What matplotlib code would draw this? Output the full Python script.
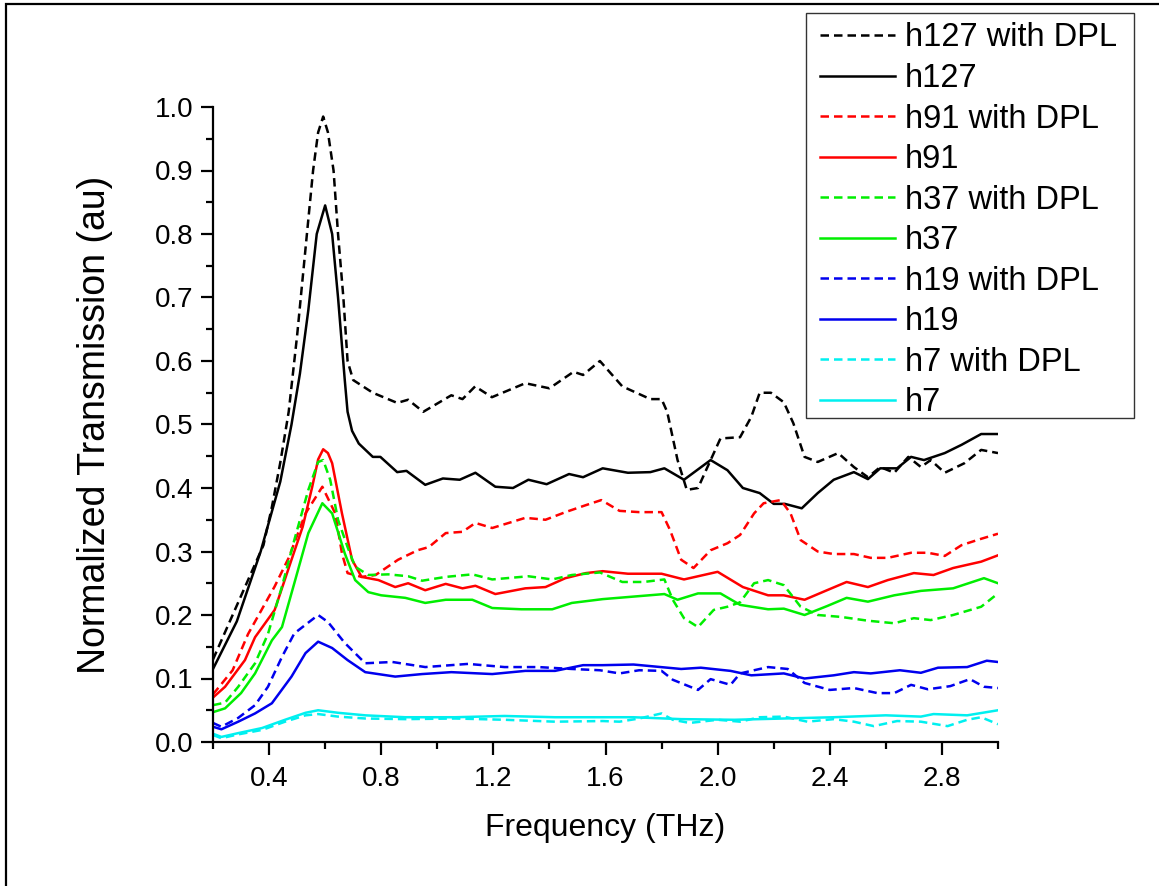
import matplotlib
matplotlib.use("Agg")
import matplotlib.pyplot as plt
from matplotlib.ticker import MultipleLocator, FormatStrFormatter
from matplotlib.patches import Rectangle

plt.rcParams['font.family'] = ['Liberation Sans', 'DejaVu Sans']

# ---- h127 ----
f_h127_dpl = [0.20, 0.27, 0.33, 0.38, 0.41, 0.44, 0.47, 0.50, 0.535, 0.557, 0.575, 0.593, 0.61, 0.63,
              0.646, 0.665, 0.68, 0.70,
              0.77, 0.857, 0.896, 0.95, 1.05, 1.09, 1.135, 1.195, 1.314, 1.40, 1.486, 1.52, 1.58,
              1.66, 1.76, 1.80, 1.82, 1.857, 1.89, 1.93, 1.975, 2.01, 2.08, 2.12, 2.15, 2.19,
              2.236, 2.27, 2.31, 2.357, 2.43, 2.486, 2.536, 2.58, 2.63, 2.68, 2.725, 2.76, 2.81,
              2.88, 2.94, 3.00]
y_h127_dpl = [0.13, 0.20, 0.26, 0.31, 0.37, 0.44, 0.52, 0.64, 0.80, 0.90, 0.96, 0.985, 0.96, 0.90,
              0.80, 0.70, 0.60, 0.57,
              0.55, 0.534, 0.539, 0.52, 0.546, 0.54, 0.56, 0.543, 0.565, 0.557, 0.583, 0.578, 0.60,
              0.56, 0.54, 0.54, 0.52, 0.444, 0.397, 0.40, 0.444, 0.478, 0.48, 0.512, 0.55, 0.55,
              0.535, 0.502, 0.449, 0.441, 0.455, 0.433, 0.417, 0.433, 0.424, 0.449, 0.433, 0.444, 0.424,
              0.439, 0.46, 0.455]

f_h127 = [0.20, 0.285, 0.37, 0.44, 0.48, 0.51, 0.54, 0.57, 0.60, 0.625, 0.646, 0.67, 0.68, 0.696,
          0.72, 0.77,
          0.797, 0.857, 0.89, 0.957, 1.02, 1.08, 1.136, 1.207, 1.27, 1.325, 1.39, 1.47, 1.52,
          1.59, 1.68, 1.76, 1.81, 1.88, 1.975, 2.035, 2.09, 2.15, 2.20, 2.24, 2.30, 2.357,
          2.414, 2.486, 2.536, 2.58, 2.64, 2.69, 2.736, 2.81, 2.87, 2.94, 3.00]
y_h127 = [0.115, 0.19, 0.30, 0.41, 0.50, 0.58, 0.68, 0.80, 0.845, 0.80, 0.70, 0.57, 0.52, 0.49,
          0.47, 0.449,
          0.449, 0.425, 0.427, 0.405, 0.415, 0.413, 0.424, 0.402, 0.40, 0.413, 0.406, 0.422, 0.417,
          0.431, 0.424, 0.425, 0.431, 0.413, 0.444, 0.428, 0.40, 0.392, 0.375, 0.375, 0.368, 0.392,
          0.413, 0.425, 0.414, 0.431, 0.431, 0.449, 0.444, 0.455, 0.468, 0.485, 0.485]

# ---- h91 ----
f_h91_dpl = [0.20, 0.27, 0.325, 0.42, 0.47, 0.53, 0.59, 0.636, 0.66, 0.68, 0.73, 0.78, 0.86,
             0.93, 0.97, 1.03, 1.09, 1.136, 1.196, 1.314, 1.386, 1.457, 1.53, 1.585, 1.65, 1.72,
             1.80, 1.83, 1.87, 1.914, 1.975, 2.035, 2.08, 2.13, 2.164, 2.225, 2.26, 2.296, 2.357,
             2.414, 2.486, 2.546, 2.607, 2.69, 2.75, 2.81, 2.87, 2.94, 3.00]
y_h91_dpl = [0.075, 0.113, 0.17, 0.245, 0.29, 0.36, 0.402, 0.36, 0.297, 0.266, 0.26, 0.263, 0.287,
             0.302, 0.307, 0.329, 0.331, 0.345, 0.337, 0.353, 0.35, 0.362, 0.373, 0.381, 0.364, 0.362,
             0.362, 0.334, 0.287, 0.274, 0.302, 0.313, 0.326, 0.36, 0.376, 0.381, 0.36, 0.318, 0.30,
             0.296, 0.296, 0.29, 0.29, 0.298, 0.298, 0.293, 0.31, 0.32, 0.328]

f_h91 = [0.20, 0.243, 0.314, 0.35, 0.42, 0.48, 0.52, 0.554, 0.575, 0.593, 0.61, 0.625, 0.66, 0.696,
         0.73, 0.79, 0.85, 0.896, 0.957, 1.03, 1.09, 1.136, 1.207, 1.314, 1.386, 1.457, 1.53, 1.59,
         1.68, 1.80, 1.88, 2.00, 2.09, 2.18, 2.236, 2.31, 2.39, 2.46, 2.536, 2.607, 2.70,
         2.77, 2.84, 2.94, 3.00]
y_h91 = [0.07, 0.087, 0.129, 0.165, 0.208, 0.287, 0.339, 0.402, 0.445, 0.461, 0.455, 0.439, 0.36, 0.287,
         0.26, 0.255, 0.244, 0.25, 0.239, 0.249, 0.242, 0.246, 0.233, 0.242, 0.244, 0.258, 0.266, 0.269,
         0.265, 0.265, 0.256, 0.268, 0.244, 0.231, 0.231, 0.224, 0.239, 0.252, 0.244, 0.255, 0.266,
         0.263, 0.274, 0.284, 0.294]

# ---- h37 ----
f_h37_dpl = [0.20, 0.243, 0.29, 0.35, 0.396, 0.446, 0.49, 0.54, 0.575, 0.593, 0.618, 0.646, 0.68,
             0.707, 0.754, 0.825, 0.896, 0.946, 1.03, 1.125, 1.196, 1.325, 1.41, 1.48, 1.58, 1.66,
             1.736, 1.81, 1.84, 1.88, 1.93, 1.986, 2.035, 2.08, 2.13, 2.18, 2.236, 2.296, 2.357,
             2.44, 2.536, 2.63, 2.70, 2.76, 2.84, 2.94, 3.00]
y_h37_dpl = [0.058, 0.062, 0.087, 0.124, 0.17, 0.245, 0.318, 0.397, 0.441, 0.444, 0.413, 0.35, 0.307,
             0.276, 0.263, 0.264, 0.261, 0.254, 0.26, 0.264, 0.256, 0.261, 0.256, 0.263, 0.267, 0.252,
             0.252, 0.256, 0.224, 0.195, 0.181, 0.208, 0.213, 0.22, 0.25, 0.255, 0.247, 0.213, 0.20,
             0.197, 0.191, 0.187, 0.195, 0.192, 0.20, 0.213, 0.234]

f_h37 = [0.20, 0.243, 0.30, 0.35, 0.41, 0.446, 0.49, 0.54, 0.59, 0.625, 0.67, 0.707, 0.754,
         0.80, 0.886, 0.957, 1.03, 1.125, 1.196, 1.30, 1.41, 1.48, 1.59, 1.70, 1.81, 1.857,
         1.93, 2.01, 2.08, 2.18, 2.236, 2.31, 2.39, 2.46, 2.536, 2.63, 2.725, 2.84, 2.95, 3.00]
y_h37 = [0.047, 0.053, 0.077, 0.108, 0.16, 0.181, 0.25, 0.329, 0.376, 0.36, 0.297, 0.255, 0.236,
         0.231, 0.227, 0.219, 0.224, 0.224, 0.211, 0.209, 0.209, 0.219, 0.225, 0.229, 0.233, 0.224,
         0.234, 0.234, 0.216, 0.209, 0.21, 0.20, 0.214, 0.227, 0.221, 0.231, 0.238, 0.242, 0.258, 0.25]

# ---- h19 ----
f_h19_dpl = [0.20, 0.23, 0.29, 0.35, 0.396, 0.446, 0.49, 0.575, 0.61, 0.67, 0.743, 0.84, 0.957,
             1.11, 1.24, 1.36, 1.48, 1.58, 1.65, 1.72, 1.80, 1.84, 1.93, 1.975, 2.046, 2.08,
             2.18, 2.25, 2.31, 2.40, 2.486, 2.57, 2.63, 2.69, 2.75, 2.83, 2.90, 2.95, 3.00]
y_h19_dpl = [0.03, 0.024, 0.038, 0.058, 0.087, 0.134, 0.171, 0.20, 0.189, 0.156, 0.124, 0.126, 0.118,
             0.123, 0.118, 0.118, 0.115, 0.113, 0.108, 0.113, 0.112, 0.098, 0.082, 0.099, 0.09, 0.108,
             0.118, 0.115, 0.093, 0.082, 0.085, 0.077, 0.077, 0.09, 0.083, 0.088, 0.099, 0.087, 0.085]

f_h19 = [0.20, 0.23, 0.29, 0.35, 0.41, 0.48, 0.53, 0.575, 0.625, 0.68, 0.743, 0.85, 0.946,
         1.05, 1.196, 1.314, 1.42, 1.52, 1.59, 1.70, 1.87, 1.94, 2.046, 2.12, 2.236, 2.31,
         2.414, 2.486, 2.546, 2.65, 2.725, 2.786, 2.89, 2.96, 3.00]
y_h19 = [0.024, 0.02, 0.032, 0.045, 0.061, 0.103, 0.14, 0.158, 0.148, 0.129, 0.11, 0.103, 0.107,
         0.11, 0.107, 0.112, 0.112, 0.121, 0.121, 0.122, 0.115, 0.117, 0.112, 0.105, 0.108, 0.10,
         0.105, 0.11, 0.108, 0.113, 0.109, 0.117, 0.118, 0.128, 0.126]

# ---- h7 ----
f_h7_dpl = [0.20, 0.23, 0.29, 0.375, 0.457, 0.53, 0.575, 0.646, 0.743, 0.886, 1.064, 1.24, 1.42,
            1.59, 1.65, 1.72, 1.80, 1.84, 1.90, 2.00, 2.08, 2.15, 2.236, 2.32, 2.414, 2.486,
            2.557, 2.64, 2.725, 2.82, 2.89, 2.94, 3.00]
y_h7_dpl = [0.011, 0.006, 0.012, 0.019, 0.032, 0.042, 0.044, 0.04, 0.037, 0.036, 0.037, 0.035, 0.032,
            0.033, 0.032, 0.037, 0.045, 0.035, 0.03, 0.035, 0.032, 0.039, 0.04, 0.032, 0.036, 0.032,
            0.025, 0.033, 0.032, 0.025, 0.035, 0.039, 0.028]

f_h7 = [0.20, 0.23, 0.29, 0.375, 0.457, 0.53, 0.575, 0.646, 0.743, 0.886, 1.064, 1.24, 1.42,
        1.59, 1.70, 1.87, 2.06, 2.236, 2.414, 2.60, 2.725, 2.77, 2.89, 3.00]
y_h7 = [0.013, 0.008, 0.014, 0.022, 0.035, 0.046, 0.05, 0.046, 0.042, 0.039, 0.039, 0.041, 0.039,
        0.039, 0.039, 0.036, 0.035, 0.037, 0.039, 0.042, 0.04, 0.044, 0.042, 0.05]

series = [
    ("h127 with DPL", f_h127_dpl, y_h127_dpl, "#000000", "--"),
    ("h127", f_h127, y_h127, "#000000", "-"),
    ("h91 with DPL", f_h91_dpl, y_h91_dpl, "#ff0000", "--"),
    ("h91", f_h91, y_h91, "#ff0000", "-"),
    ("h37 with DPL", f_h37_dpl, y_h37_dpl, "#00ee00", "--"),
    ("h37", f_h37, y_h37, "#00ee00", "-"),
    ("h19 with DPL", f_h19_dpl, y_h19_dpl, "#0000ee", "--"),
    ("h19", f_h19, y_h19, "#0000ee", "-"),
    ("h7 with DPL", f_h7_dpl, y_h7_dpl, "#00f0f0", "--"),
    ("h7", f_h7, y_h7, "#00f0f0", "-"),
]

W, H = 1159, 886
fig = plt.figure(figsize=(W / 100, H / 100), dpi=100)
ax = fig.add_axes([213 / W, 1 - 742 / H, (998 - 213) / W, (742 - 107) / H])

for label, fx, fy, color, ls in series:
    kw = dict(color=color, lw=1.8, label=label, solid_joinstyle="round")
    if ls == "--":
        kw["dashes"] = (3.4, 2.0)
    ax.plot(fx, fy, **kw)

ax.set_xlim(0.2, 3.0)
ax.set_ylim(0.0, 1.0)
ax.xaxis.set_major_locator(MultipleLocator(0.4))
ax.xaxis.set_minor_locator(MultipleLocator(0.2))
ax.yaxis.set_major_locator(MultipleLocator(0.1))
ax.yaxis.set_minor_locator(MultipleLocator(0.05))
ax.xaxis.set_major_formatter(FormatStrFormatter('%.1f'))
ax.yaxis.set_major_formatter(FormatStrFormatter('%.1f'))

for side in ("top", "right"):
    ax.spines[side].set_visible(False)
for side in ("left", "bottom"):
    ax.spines[side].set_linewidth(1.6)

ax.tick_params(which="major", direction="out", length=9, width=1.6, labelsize=20, pad=8)
ax.tick_params(which="minor", direction="out", length=5, width=1.6)
ax.tick_params(axis="y", which="major", pad=5)

ax.set_xlabel("Frequency (THz)", fontsize=23)
ax.set_ylabel("Normalized Transmission (au)", fontsize=27)
ax.xaxis.set_label_coords(0.5, (742 - 813) / 635)
ax.yaxis.set_label_coords((113 - 213) / 785, 0.5)

# legend frame drawn as a separate box, entries placed inside it
fig.patches.append(Rectangle((806 / W, 1 - 418 / H), (1134 - 806) / W, (418 - 13) / H,
                             transform=fig.transFigure, facecolor="white", edgecolor="#333333",
                             lw=1.0, zorder=4))

legend_fs = 23.5
row_first, row_last, n_rows = 35.0, 400.0, len(series)
want_step = (row_last - row_first) / (n_rows - 1)
spacing = 0.30
anchor_y = 1 - 16 / H
for _ in range(3):
    leg = fig.legend(loc="upper left", bbox_to_anchor=(820 / W, anchor_y),
                     bbox_transform=fig.transFigure, fontsize=legend_fs, frameon=False,
                     handlelength=2.3, handletextpad=0.3, labelspacing=spacing,
                     borderaxespad=0.0, borderpad=0.0)
    leg.set_zorder(5)
    fig.canvas.draw()
    ys = [h.get_window_extent().y0 + h.get_window_extent().height / 2 for h in leg.legend_handles]
    step = (ys[0] - ys[-1]) / (n_rows - 1)
    fs_px = legend_fs * fig.dpi / 72
    spacing += (want_step - step) / fs_px
    anchor_y += ((H - row_first) - ys[0]) / H
    leg.remove()

leg = fig.legend(loc="upper left", bbox_to_anchor=(820 / W, anchor_y),
                 bbox_transform=fig.transFigure, fontsize=legend_fs, frameon=False,
                 handlelength=2.3, handletextpad=0.3, labelspacing=spacing,
                 borderaxespad=0.0, borderpad=0.0)
leg.set_zorder(5)

# outer frame around the figure
fig.patches.append(Rectangle((6 / W, -0.1), 1.2, 1.1 - 4 / H, transform=fig.transFigure,
                             fill=False, edgecolor="black", lw=1.6, zorder=0))

fig.savefig("out.png", dpi=100)
